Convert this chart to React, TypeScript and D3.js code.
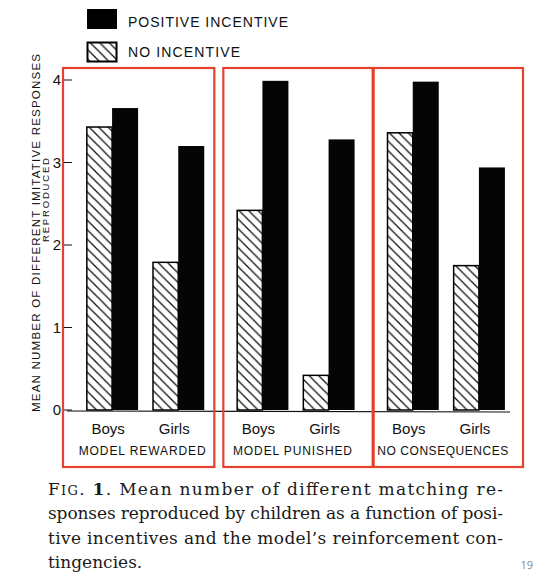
import React from "react";
import * as d3 from "d3";

// Conditions (panels), child groups and the two incentive series
const panels = ["MODEL REWARDED", "MODEL PUNISHED", "NO CONSEQUENCES"];
const groups = ["Boys", "Girls"];
const series = ["NO INCENTIVE", "POSITIVE INCENTIVE"];

// Mean number of different imitative responses reproduced, per panel: [Boys, Girls]
const noIncentive = [
  [3.43, 1.79],
  [2.42, 0.42],
  [3.36, 1.75],
];
const positiveIncentive = [
  [3.66, 3.2],
  [3.99, 3.28],
  [3.98, 2.94],
];

const yTicks = [0, 1, 2, 3, 4];

const captionLines = [
  "Mean number of different matching re-",
  "sponses reproduced by children as a function of posi-",
  "tive incentives and the model\u2019s reinforcement con-",
  "tingencies.",
];

const W = 548;
const H = 588;
const RED = "#e5412f";
const SANS = "'Liberation Sans', Arial, sans-serif";
const SERIF = "'DejaVu Serif', 'Liberation Serif', serif";

export default function App() {
  const axisX = 64;
  const y = d3.scaleLinear().domain([0, 4]).range([410, 80]);
  const xPanel = d3.scaleBand<string>().domain(panels).range([70, 521]).padding(0);
  const xGroup = d3
    .scalePoint<string>()
    .domain(groups)
    .range([0, xPanel.bandwidth()])
    .padding(0.636);
  const xSeries = d3.scaleBand<string>().domain(series).range([-26, 26]).padding(0);

  const values = [noIncentive, positiveIncentive];

  const bars: { x: number; y0: number; w: number; s: string }[] = [];
  panels.forEach((p, pi) => {
    groups.forEach((g, gi) => {
      series.forEach((s, si) => {
        const cx = (xPanel(p) as number) + (xGroup(g) as number);
        bars.push({
          x: cx + (xSeries(s) as number),
          y0: y(values[si][pi][gi]),
          w: xSeries.bandwidth(),
          s,
        });
      });
    });
  });

  const boxTop = y(4) - 12;
  const boxBottom = 467;

  return (
    <svg
      width={W}
      height={H}
      viewBox={`0 0 ${W} ${H}`}
      style={{ position: "absolute", left: 0, top: 0, background: "#fff" }}
    >
      <defs>
        <pattern id="hatch" patternUnits="userSpaceOnUse" width={9.5} height={9.5}>
          <rect width={9.5} height={9.5} fill="#fff" />
          <path d="M-2,-2 L11.5,11.5 M-2,7.5 L2,11.5 M7.5,-2 L11.5,2" stroke="#111" strokeWidth={1.3} />
        </pattern>
      </defs>

      {/* legend */}
      <rect x={87} y={9} width={30} height={20} fill="#000" />
      <text x={128} y={27} fontFamily={SANS} fontSize={14} textLength={160} lengthAdjust="spacing" fill="#111">
        POSITIVE INCENTIVE
      </text>
      <rect x={87.5} y={42.5} width={29} height={19} fill="url(#hatch)" stroke="#000" strokeWidth={2} />
      <text x={128} y={57} fontFamily={SANS} fontSize={14} textLength={112} lengthAdjust="spacing" fill="#111">
        NO INCENTIVE
      </text>

      {/* y axis title */}
      <text
        transform="translate(39.5,233) rotate(-90)"
        textAnchor="middle"
        fontFamily={SANS}
        fontSize={11.5}
        textLength={358}
        lengthAdjust="spacing"
        fill="#111"
      >
        MEAN NUMBER OF DIFFERENT IMITATIVE RESPONSES
      </text>
      <text
        transform="translate(48.5,200) rotate(-90)"
        textAnchor="middle"
        fontFamily={SANS}
        fontSize={9.5}
        textLength={84}
        lengthAdjust="spacing"
        fill="#111"
      >
        REPRODUCED
      </text>

      {/* y ticks */}
      {yTicks.map((t) => (
        <g key={t}>
          <line x1={axisX} x2={axisX + 8} y1={y(t)} y2={y(t)} stroke="#111" strokeWidth={1} />
          <text x={61} y={y(t) + 5} textAnchor="end" fontFamily={SANS} fontSize={15} fill="#111">
            {t}
          </text>
        </g>
      ))}

      {/* bars */}
      {bars.map((b, i) =>
        b.s === "POSITIVE INCENTIVE" ? (
          <rect key={i} x={b.x} y={b.y0} width={b.w} height={y(0) - b.y0} fill="#050505" />
        ) : (
          <rect
            key={i}
            x={b.x + 0.75}
            y={b.y0}
            width={b.w - 0.75}
            height={y(0) - b.y0}
            fill="url(#hatch)"
            stroke="#000"
            strokeWidth={1.5}
          />
        )
      )}

      {/* baseline */}
      <line x1={axisX + 3} x2={510} y1={y(0) + 1} y2={y(0) + 2} stroke="#111" strokeWidth={1.2} />

      {/* category and condition labels */}
      {panels.map((p) => {
        const px = xPanel(p) as number;
        const center = px + xPanel.bandwidth() / 2;
        return (
          <g key={p}>
            {groups.map((g) => (
              <text
                key={g}
                x={px + (xGroup(g) as number) - 4}
                y={434}
                textAnchor="middle"
                fontFamily={SANS}
                fontSize={15}
                fill="#111"
              >
                {g}
              </text>
            ))}
            <text
              x={center - 3}
              y={455}
              textAnchor="middle"
              fontFamily={SANS}
              fontSize={12}
              textLength={p === "NO CONSEQUENCES" ? 131 : p === "MODEL PUNISHED" ? 119 : 127}
              lengthAdjust="spacing"
              fill="#111"
            >
              {p}
            </text>
          </g>
        );
      })}

      {/* condition frames */}
      {panels.map((p, i) => {
        const px = xPanel(p) as number;
        const left = i === 0 ? axisX - 1 : px + 3;
        const right = i === 0 ? px + xPanel.bandwidth() - 6 : px + xPanel.bandwidth() + 2;
        return (
          <rect
            key={p}
            x={left}
            y={boxTop}
            width={right - left}
            height={boxBottom - boxTop}
            fill="none"
            stroke={RED}
            strokeWidth={2.2}
          />
        );
      })}

      {/* caption */}
      {captionLines.map((line, i) => {
        const justify = i < captionLines.length - 1;
        return (
          <text
            key={i}
            x={48}
            y={495 + i * 24.3}
            fontFamily={SERIF}
            fontSize={17}
            fill="#1a1a1a"
            textLength={justify ? 455 : undefined}
            lengthAdjust="spacing"
          >
            {i === 0 ? (
              <>
                <tspan>F</tspan>
                <tspan fontSize={13}>IG</tspan>
                <tspan>. </tspan>
                <tspan fontWeight="bold">1</tspan>
                <tspan>. </tspan>
              </>
            ) : null}
            {line}
          </text>
        );
      })}

      {/* page number */}
      <text x={533} y={569} textAnchor="end" fontFamily="'Open Sans', sans-serif" fontSize={11} fill="#888">
        19
      </text>
    </svg>
  );
}
